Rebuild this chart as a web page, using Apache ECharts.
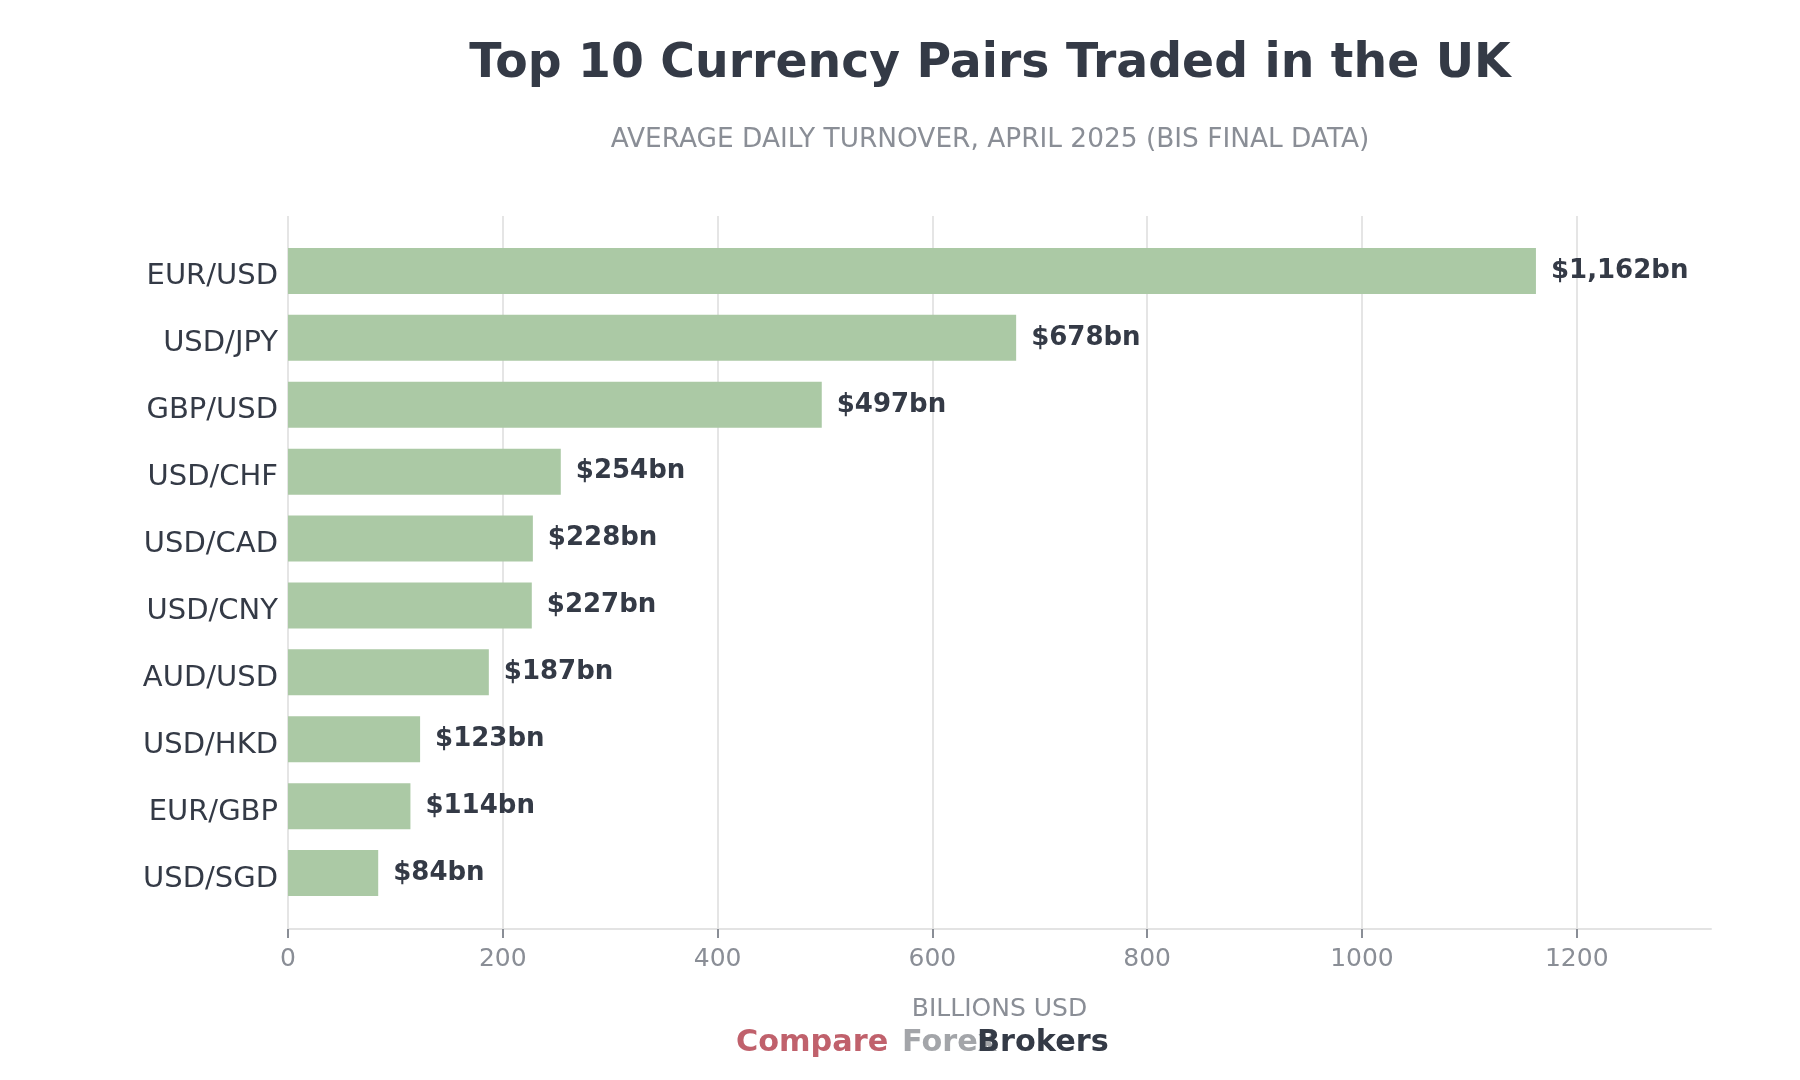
<!DOCTYPE html>
<html>
<head>
<meta charset="utf-8">
<script src="https://cdn.jsdelivr.net/npm/echarts@6/dist/echarts.min.js"></script>
<style>
html,body{margin:0;padding:0;background:#fff;}
#chart{width:1800px;height:1080px;}
</style>
</head>
<body>
<div id="chart"></div>
<script>
const categories = ["EUR/USD","USD/JPY","GBP/USD","USD/CHF","USD/CAD","USD/CNY","AUD/USD","USD/HKD","EUR/GBP","USD/SGD"];
const turnover = [1162, 678, 497, 254, 228, 227, 187, 123, 114, 84];
const xTicks = [0, 200, 400, 600, 800, 1000, 1200];

const titleText = "Top 10 Currency Pairs Traded in the UK";
const subtitleText = "AVERAGE DAILY TURNOVER, APRIL 2025 (BIS FINAL DATA)";
const axisName = "BILLIONS USD";

const FONT = "DejaVu Sans";
const DARK = "#343a46";
const GRAY = "#8a8e96";
const XMAX = 1325;
const TICKMAX = xTicks[xTicks.length - 1];

function fmt(v){
  return "$" + String(v).replace(/\B(?=(\d{3})+(?!\d))/g, ",") + "bn";
}

const LEFT = 288, RIGHT = 89;
const plotW = 1800 - LEFT - RIGHT;
const tickRight = 1800 - (LEFT + plotW * TICKMAX / XMAX);

const chart = echarts.init(document.getElementById('chart'), null, {renderer:'canvas'});
chart.setOption({
  animation:false,
  backgroundColor:'#ffffff',
  textStyle:{fontFamily:FONT},
  grid:[
    {left:LEFT, right:RIGHT, top:237.5, height:669},
    {left:LEFT, right:tickRight, top:216, bottom:151},
    {left:LEFT, right:RIGHT, top:216, bottom:151}
  ],
  xAxis:[
    {gridIndex:0, type:'value', min:0, max:XMAX, show:false},
    {gridIndex:1, type:'value', min:0, max:TICKMAX, interval:200,
     axisLine:{show:false},
     axisTick:{show:true, length:9, lineStyle:{color:GRAY, width:2}},
     axisLabel:{color:GRAY, fontSize:25, fontFamily:FONT, margin:18,
       formatter:function(v){ return String(v); }},
     splitLine:{show:true, lineStyle:{color:'#e5e5e5', width:2}}
    },
    {gridIndex:2, type:'value', min:0, max:XMAX,
     axisLine:{show:true, lineStyle:{color:'#e3e3e3', width:2}},
     axisTick:{show:false}, axisLabel:{show:false}, splitLine:{show:false},
     name:axisName, nameLocation:'middle', nameGap:68,
     nameTextStyle:{color:GRAY, fontSize:25, fontFamily:FONT}
    }
  ],
  yAxis:[
    {gridIndex:0, type:'category', data:categories, inverse:true,
     axisLine:{show:false}, axisTick:{show:false},
     axisLabel:{color:DARK, fontSize:29, fontFamily:FONT, margin:10,
       verticalAlign:'top', lineHeight:12},
     splitLine:{show:false}},
    {gridIndex:1, type:'value', show:false},
    {gridIndex:2, type:'value', show:false}
  ],
  series:[
    {type:'bar', xAxisIndex:0, yAxisIndex:0, data:turnover, barWidth:46,
     itemStyle:{color:'#abc9a5'},
     label:{show:true, position:'right', distance:15, color:DARK,
       fontSize:26, fontWeight:'bold', fontFamily:FONT,
       formatter:function(p){ return fmt(p.value); }}
    }
  ],
  graphic:[
    {type:'text', x:990, y:64.5, style:{text:titleText, fill:DARK, font:'bold 47.3px "DejaVu Sans"', textAlign:'center', textVerticalAlign:'middle'}},
    {type:'text', x:990, y:140.5, style:{text:subtitleText, fill:GRAY, font:'26.4px "DejaVu Sans"', textAlign:'center', textVerticalAlign:'middle'}},
    {type:'text', x:736, y:1043, style:{text:'Compare', fill:'#c0616c', font:'bold 30.3px "DejaVu Sans"', textAlign:'left', textVerticalAlign:'middle'}},
    {type:'text', x:902, y:1043, style:{text:'Forex', fill:'#a3a5a9', font:'bold 30.3px "DejaVu Sans"', textAlign:'left', textVerticalAlign:'middle'}},
    {type:'text', x:977, y:1043, style:{text:'Brokers', fill:DARK, font:'bold 30.3px "DejaVu Sans"', textAlign:'left', textVerticalAlign:'middle'}}
  ]
});
</script>
</body>
</html>
